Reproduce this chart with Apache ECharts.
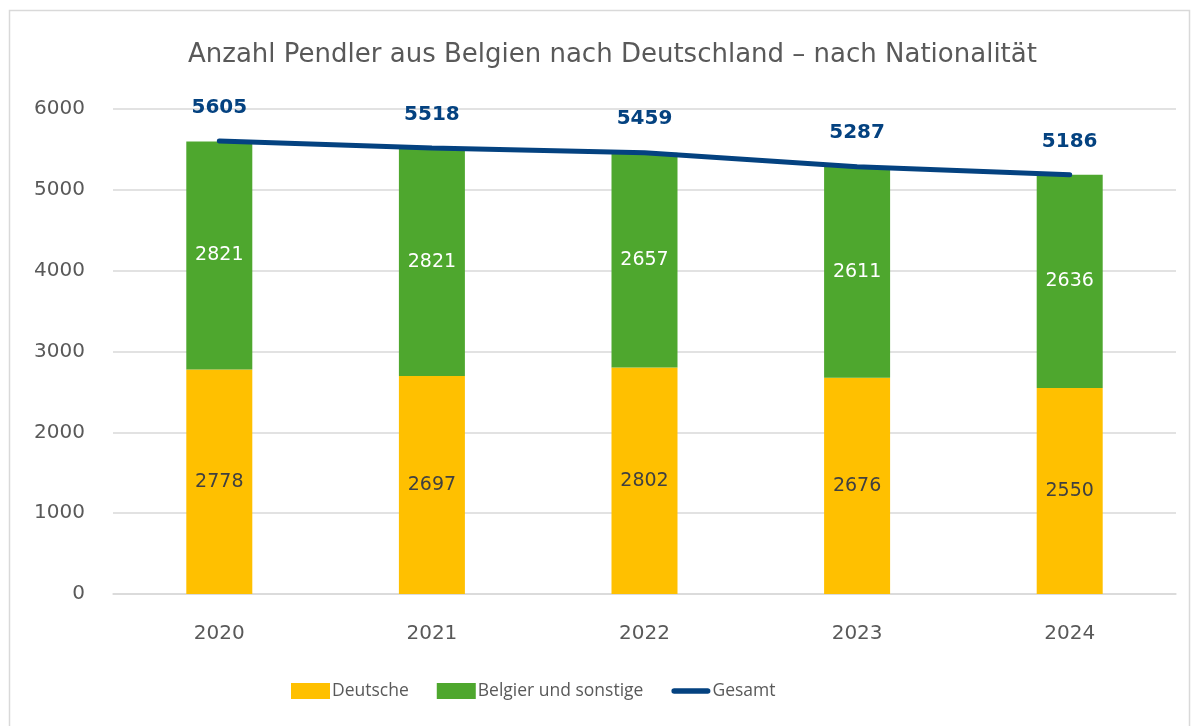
<!DOCTYPE html>
<html>
<head>
    <meta charset="utf-8">
    <title>Pendler Belgien - Deutschland</title>
    <script type="text/javascript" src="https://cdn.jsdelivr.net/npm/echarts@6/dist/echarts.min.js"></script>
    <style>
        html, body { margin: 0; padding: 0; background: #fff; }
        #main { width: 1194px; height: 726px; }
    </style>
</head>
<body>
<div id="main"></div>
<script type="text/javascript">
    // Daten
    var jahre = ['2020', '2021', '2022', '2023', '2024'];
    var deutsche = [2778, 2697, 2802, 2676, 2550];
    var belgier = [2821, 2821, 2657, 2611, 2636];
    var gesamt = [5605, 5518, 5459, 5287, 5186];

    var schrift = '"DejaVu Sans", "Open Sans", sans-serif';
    var schriftLegende = '"Open Sans", sans-serif';
    var grau = '#595959';
    var blau = '#044280';

    var myChart = echarts.init(document.getElementById('main'));
    myChart.setOption({
        animation: false,
        textStyle: { fontFamily: schrift },
        graphic: [{
            type: 'rect',
            shape: { x: 9.5, y: 10.5, width: 1180, height: 730 },
            style: { fill: 'none', stroke: '#d9d9d9', lineWidth: 1.5 },
            silent: true
        }],
        title: {
            text: 'Anzahl Pendler aus Belgien nach Deutschland \u2013 nach Nationalität',
            left: 183,
            top: 37,
            textStyle: { fontFamily: schrift, fontSize: 26, fontWeight: 'normal', color: grau }
        },
        legend: {
            bottom: 21,
            left: 286,
            itemGap: 28,
            itemWidth: 39,
            itemHeight: 16,
            textStyle: { fontFamily: schriftLegende, fontSize: 17.5, color: grau, padding: [0, 0, 0, -3] },
            data: [
                { name: 'Deutsche', icon: 'rect' },
                { name: 'Belgier und sonstige', icon: 'rect' },
                {
                    name: 'Gesamt',
                    icon: 'path://M3,0 L39,0 A3,3 0 0 1 39,6 L3,6 A3,3 0 0 1 3,0 Z',
                    itemStyle: { color: blau }
                }
            ]
        },
        grid: { left: 113, right: 18, top: 109, bottom: 132 },
        xAxis: {
            type: 'category',
            data: jahre,
            axisLine: { lineStyle: { color: '#d9d9d9', width: 1.5 } },
            axisTick: { show: false },
            axisLabel: { fontFamily: schrift, fontSize: 20, color: grau, margin: 30 }
        },
        yAxis: {
            type: 'value',
            min: 0,
            max: 6000,
            interval: 1000,
            axisLine: { show: false },
            axisTick: { show: false },
            splitLine: { lineStyle: { color: '#d9d9d9', width: 1.5 } },
            axisLabel: {
                fontFamily: schrift, fontSize: 20, color: grau, margin: 28,
                formatter: function (v) { return String(v); }
            }
        },
        series: [{
            name: 'Deutsche',
            type: 'bar',
            stack: 'summe',
            barWidth: 66,
            itemStyle: { color: '#ffc000' },
            label: { show: true, position: 'inside', fontSize: 19, color: '#404040', fontFamily: schrift },
            data: deutsche
        }, {
            name: 'Belgier und sonstige',
            type: 'bar',
            stack: 'summe',
            barWidth: 66,
            itemStyle: { color: '#4ea72e' },
            label: { show: true, position: 'inside', fontSize: 19, color: '#ffffff', fontFamily: schrift },
            data: belgier
        }, {
            name: 'Gesamt',
            type: 'line',
            symbol: 'none',
            lineStyle: { color: blau, width: 5, cap: 'round' },
            itemStyle: { color: blau },
            data: gesamt
        }, {
            // nur für die Beschriftung der Gesamtlinie
            name: 'Gesamt',
            type: 'scatter',
            symbolSize: 1,
            itemStyle: { color: 'rgba(0,0,0,0)', opacity: 1 },
            label: {
                show: true, position: 'top', distance: 23, opacity: 1,
                fontSize: 20, fontWeight: 'bold', color: blau, fontFamily: schrift
            },
            data: gesamt
        }]
    });
</script>
</body>
</html>
